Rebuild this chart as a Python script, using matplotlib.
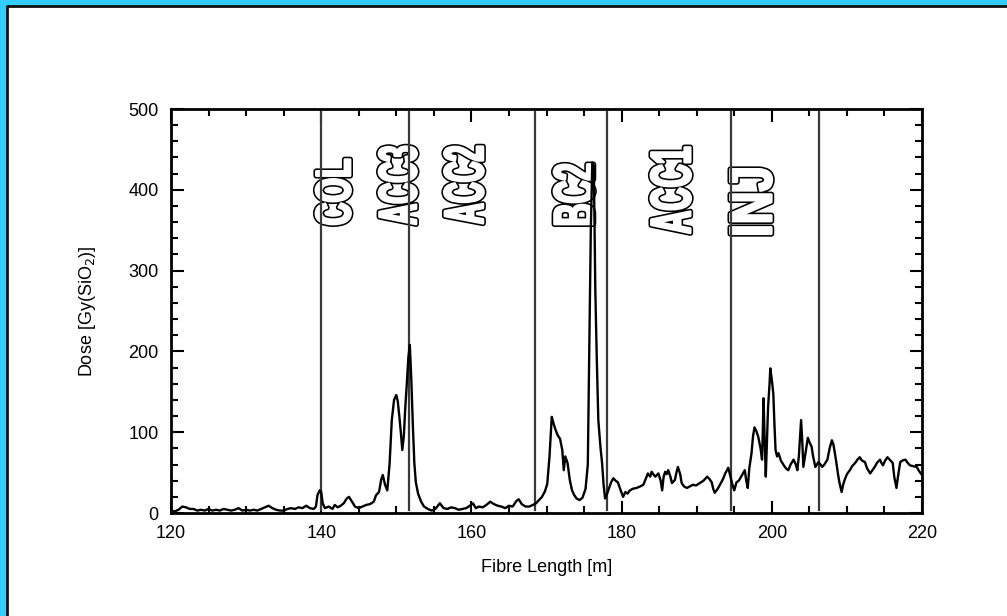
import matplotlib
matplotlib.use("Agg")
import matplotlib.pyplot as plt
from matplotlib.lines import Line2D
from matplotlib.patches import Rectangle, PathPatch
from matplotlib.textpath import TextPath
from matplotlib.font_manager import FontProperties
from matplotlib.transforms import Affine2D
from matplotlib.ticker import MultipleLocator

plt.rcParams['font.family'] = ['Liberation Sans', 'DejaVu Sans']

# Dose profile (fibre position in m, dose in Gy)
fibre_len = [
    120.0, 120.5, 121.0, 121.5, 122.0, 122.5, 123.0, 123.5, 124.0, 124.5,
    125.0, 125.5, 126.0, 126.5, 127.0, 127.5, 128.0, 128.5, 129.0, 129.5,
    130.0, 130.5, 131.0, 131.5, 132.0, 132.5, 133.0, 133.5, 134.0, 134.5,
    135.0, 135.5, 136.0, 136.5, 137.0, 137.5, 138.0, 138.5, 139.0, 139.3,
    139.5, 139.8, 140.0, 140.2, 140.5, 141.0, 141.5, 141.8, 142.2, 142.6,
    143.0, 143.4, 143.7, 144.1, 144.5, 145.0, 145.5, 146.0, 146.5, 147.0,
    147.3, 147.7, 148.0, 148.2, 148.5, 148.8, 149.1, 149.4, 149.7, 150.0,
    150.2, 150.4, 150.6, 150.8, 151.0, 151.2, 151.4, 151.6, 151.8, 152.0,
    152.2, 152.4, 152.6, 152.9, 153.3, 153.7, 154.2, 154.7, 155.2, 155.8,
    156.3, 156.8, 157.3, 157.8, 158.3, 158.8, 159.3, 159.8, 160.2, 160.6,
    161.0, 161.5, 162.0, 162.5, 163.0, 163.5, 164.0, 164.5, 165.0, 165.5,
    166.0, 166.3, 166.7, 167.2, 167.7, 168.2, 168.6, 169.0, 169.4, 169.8,
    170.1, 170.4, 170.7, 170.9, 171.2, 171.5, 171.8, 172.1, 172.3, 172.5,
    172.8, 173.1, 173.4, 173.7, 174.0, 174.4, 174.8, 175.2, 175.5, 175.7,
    175.9, 176.1, 176.3, 176.5, 176.7, 176.9, 177.2, 177.4, 177.6, 177.8,
    178.0, 178.3, 178.6, 178.9, 179.2, 179.5, 179.8, 180.2, 180.5, 180.8,
    181.1, 181.5, 182.0, 182.5, 182.9, 183.2, 183.5, 183.8, 184.0, 184.3,
    184.5, 184.9, 185.2, 185.4, 185.6, 185.8, 186.0, 186.2, 186.5, 186.7,
    187.1, 187.3, 187.5, 187.8, 188.0, 188.3, 188.7, 189.1, 189.5, 189.9,
    190.4, 190.9, 191.4, 191.7, 192.0, 192.2, 192.4, 192.8, 193.1, 193.5,
    193.8, 194.2, 194.5, 194.7, 195.0, 195.3, 195.6, 195.8, 196.1, 196.4,
    196.6, 196.8, 197.0, 197.3, 197.5, 197.7, 198.0, 198.2, 198.5, 198.7,
    198.8, 198.9, 199.05, 199.2, 199.4, 199.5, 199.7, 199.8, 200.0, 200.2,
    200.35, 200.5, 200.7, 200.9, 201.2, 201.6, 201.9, 202.2, 202.5, 202.9,
    203.2, 203.4, 203.6, 203.9, 204.05, 204.2, 204.5, 204.8, 205.0, 205.3,
    205.5, 205.8, 206.0, 206.2, 206.5, 206.7, 207.0, 207.4, 207.7, 208.0,
    208.2, 208.4, 208.6, 208.8, 209.0, 209.3, 209.5, 209.7, 210.0, 210.4,
    210.7, 211.1, 211.4, 211.7, 212.0, 212.4, 212.7, 213.1, 213.4, 213.7,
    214.0, 214.4, 214.6, 214.8, 215.1, 215.4, 215.7, 216.1, 216.3, 216.6,
    216.8, 217.1, 217.4, 217.8, 218.1, 218.4, 218.8, 219.3, 219.6, 220.0,
]
dose = [
    3, 2, 4, 8, 7, 5, 5, 3, 4, 3,
    5, 3, 4, 3, 5, 4, 3, 4, 6, 3,
    4, 3, 4, 3, 5, 7, 9, 6, 4, 3,
    3, 5, 6, 5, 7, 6, 9, 6, 5, 8,
    22, 28, 26, 12, 6, 8, 5, 10, 7, 9,
    12, 18, 20, 14, 8, 6, 8, 10, 11, 14,
    22, 26, 42, 47, 35, 28, 60, 115, 140, 146,
    138, 120, 100, 78, 95, 131, 160, 192, 208, 165,
    110, 62, 38, 24, 14, 8, 5, 3, 5, 12,
    6, 5, 7, 6, 4, 5, 6, 9, 12, 6,
    8, 7, 10, 14, 11, 9, 8, 6, 9, 8,
    15, 17, 11, 8, 8, 10, 12, 16, 20, 27,
    36, 70, 119, 112, 103, 96, 92, 78, 53, 70,
    62, 41, 28, 22, 18, 16, 19, 30, 60, 200,
    350, 434, 430, 276, 189, 115, 80, 62, 35, 18,
    22, 30, 38, 43, 40, 38, 30, 20, 26, 24,
    28, 30, 31, 33, 35, 42, 49, 45, 51, 47,
    45, 49, 40, 28, 45, 51, 48, 53, 45, 37,
    41, 50, 57, 48, 37, 33, 31, 33, 35, 34,
    37, 40, 45, 42, 38, 30, 25, 30, 35, 42,
    49, 56, 45, 37, 28, 38, 40, 43, 48, 53,
    40, 31, 55, 74, 95, 106, 100, 94, 80, 66,
    100, 142, 90, 45, 100, 130, 160, 179, 165, 148,
    110, 78, 70, 74, 65, 59, 55, 53, 60, 66,
    60, 53, 70, 115, 90, 57, 75, 93, 88, 82,
    70, 57, 60, 63, 60, 57, 60, 66, 80, 90,
    85, 74, 62, 49, 38, 26, 35, 41, 48, 53,
    58, 62, 66, 69, 65, 63, 55, 49, 53, 57,
    62, 66, 62, 59, 65, 69, 66, 62, 45, 31,
    45, 63, 65, 66, 62, 59, 58, 57, 52, 47,
]
assert len(fibre_len) == len(dose)

# Section boundaries along the fibre (m)
boundaries = [140.0, 151.7, 168.5, 178.1, 194.6, 206.3]

# Section names and the box each outlined label fills (x0, x1, y0, y1 in data units)
section_names = ["COL", "ACC3", "ACC2", "BC2", "ACC1", "INJ"]
name_boxes = [
    (138.9, 144.3, 354, 441),
    (147.3, 153.1, 354, 457),
    (156.0, 162.0, 355, 457),
    (170.6, 176.7, 354, 435),
    (183.5, 189.6, 343, 456),
    (194.1, 200.4, 342, 429),
]

fig = plt.figure(figsize=(10.07, 6.16), dpi=100)
fig.patch.set_facecolor("#33CCFF")

# white panel with dark edge on top and left
fig.add_artist(Rectangle((7 / 1007, 0), 1, 1 - 6 / 616, transform=fig.transFigure,
                         facecolor="white", edgecolor="none", zorder=-10))
fig.add_artist(Line2D([7 / 1007, 7 / 1007, 1], [0, 1 - 6 / 616, 1 - 6 / 616],
                      transform=fig.transFigure, color="#111111", lw=2))

ax = fig.add_axes([171 / 1007, 103 / 616, 751 / 1007, 404 / 616])
ax.set_facecolor("none")

ax.plot(fibre_len, dose, color="black", lw=1.7, zorder=5)

for b in boundaries:
    ax.axvline(b, ymin=0.007, ymax=0.993, color="#3a3a3a", lw=1.6, zorder=4)

# outlined labels: black stroke, white stroke on top leaves a thin outline
grow = 1.2  # px the letters are fattened by
edge = 1.6  # px outline width
gx, gy = (grow + edge) / 7.51, (grow + edge) / 0.808
fp = FontProperties(family="Liberation Sans", weight="bold")
for name, (x0, x1, y0, y1) in zip(section_names, name_boxes):
    x0, x1, y0, y1 = x0 + gx, x1 - gx, y0 + gy, y1 - gy
    tp = TextPath((0, 0), name, size=1, prop=fp)
    ext = tp.get_extents()
    kx = (x1 - x0) / (ext.y1 - ext.y0)
    ky = (y1 - y0) / (ext.x1 - ext.x0)
    # rotate 90 deg: glyph tops point left, text reads upward
    m = Affine2D.from_values(0, ky, -kx, 0, x1 + ext.y0 * kx, y0 - ext.x0 * ky)
    p = m.transform_path(tp)
    ax.add_patch(PathPatch(p, facecolor="black", edgecolor="black",
                           lw=2 * (grow + edge) * 0.72, joinstyle="round", zorder=2))
    ax.add_patch(PathPatch(p, facecolor="white", edgecolor="white",
                           lw=2 * grow * 0.72, joinstyle="round", zorder=3))

ax.set_xlim(120, 220)
ax.set_ylim(0, 500)
ax.xaxis.set_major_locator(MultipleLocator(20))
ax.xaxis.set_minor_locator(MultipleLocator(5))
ax.yaxis.set_major_locator(MultipleLocator(100))
ax.yaxis.set_minor_locator(MultipleLocator(20))
ax.tick_params(which="both", direction="in", top=True, right=True, width=1.5)
ax.tick_params(which="major", length=9, labelsize=13, pad=9)
ax.tick_params(which="minor", length=5)
for s in ax.spines.values():
    s.set_linewidth(2)
    s.set_zorder(6)

ax.set_xlabel("Fibre Length [m]", fontsize=13, labelpad=12)
ax.set_ylabel("Dose [Gy(SiO$_2$)]", fontsize=13, labelpad=22)

fig.savefig("out.png", dpi=100, facecolor=fig.get_facecolor())
